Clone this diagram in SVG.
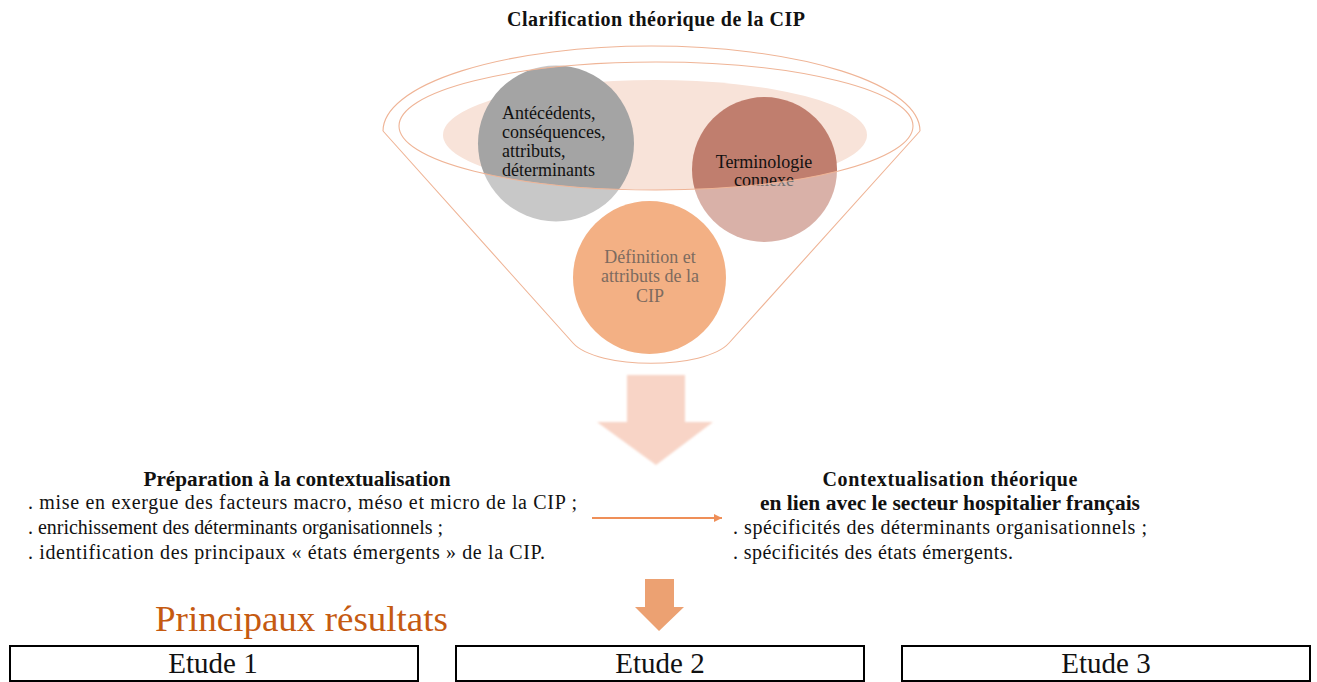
<svg xmlns="http://www.w3.org/2000/svg" width="1317" height="682" viewBox="0 0 1317 682">
<defs>
<style>
.t{font-family:"Liberation Serif","Times New Roman",serif;fill:#111;}
.b{font-weight:bold;}
.f18{font-size:18px;}
.f20{font-size:20px;}
.box{fill:#fff;stroke:#000;stroke-width:2;}
.funl{fill:none;stroke:#efb496;stroke-width:1.1;}
</style>
<marker id="ah" viewBox="0 0 10 10" refX="10" refY="5" markerWidth="8" markerHeight="8" markerUnits="userSpaceOnUse" orient="auto">
<path d="M0,0 L10,5 L0,10 Z" fill="#ef8f58"/>
</marker>
<filter id="soft" x="-10%" y="-10%" width="120%" height="120%">
<feGaussianBlur stdDeviation="1.2"/>
</filter>
</defs>
<rect width="1317" height="682" fill="#fff"/>

<g id="title">
<text class="t b" x="656" y="26" font-size="20" text-anchor="middle" textLength="298" lengthAdjust="spacing">Clarification théorique de la CIP</text>
</g>

<g id="funnel">
<ellipse id="funnel-fill" cx="655" cy="135" rx="212" ry="55" fill="#f8e3d9"/>
<g id="node-antecedents">
<circle cx="556" cy="143.5" r="78" fill="#a4a4a4"/>
<text class="t f18" x="502"><tspan x="502" y="119">Antécédents,</tspan><tspan x="502" y="138">conséquences,</tspan><tspan x="502" y="157">attributs,</tspan><tspan x="502" y="176">déterminants</tspan></text>
</g>
<g id="node-terminologie">
<circle cx="764.5" cy="169.5" r="72.5" fill="#c07e6e"/>
<text class="t f18" text-anchor="middle"><tspan x="764" y="168">Terminologie</tspan><tspan x="764" y="186">connexe</tspan></text>
</g>
<path id="funnel-body" fill="#fff" fill-opacity="0.4" fill-rule="evenodd" d="M383,131 A268.5,85 0 0 1 920,131 L729,343 C705,370 597,370 573,343 Z M399,126 A257,64 0 1 0 913,126 A257,64 0 1 0 399,126 Z"/>
<path class="funl" d="M383,131 A268.5,85 0 0 1 920,131"/>
<path class="funl" stroke="#f2c3ab" d="M383,131 L573,343 C597,370 705,370 729,343 L920,131"/>
<ellipse class="funl" stroke="#eaa17c" cx="656" cy="126" rx="257" ry="64"/>
<g id="node-definition">
<circle cx="649.5" cy="277.5" r="76.5" fill="#f3b084"/>
<text class="t f18" text-anchor="middle" style="fill:#7d6b5f"><tspan x="650" y="263">Définition et</tspan><tspan x="650" y="282">attributs de la</tspan><tspan x="650" y="302">CIP</tspan></text>
</g>
</g>

<g id="connectors">
<polygon points="627,375 685,375 685,422 713,422 656,465 597,422 627,422" fill="#f8d4c6" filter="url(#soft)"/>
<line x1="592" y1="518" x2="722" y2="518" stroke="#ef8f58" stroke-width="1.8" marker-end="url(#ah)"/>
<polygon points="645,579 674,579 674,607 684,607 659,631 635,607 645,607" fill="#eca172"/>
</g>

<g id="node-preparation">
<text class="t b f20" x="297" y="486" text-anchor="middle" textLength="307" lengthAdjust="spacingAndGlyphs">Préparation à la contextualisation</text>
<text class="t f20" x="28" y="509" textLength="549" lengthAdjust="spacing">.  mise en exergue des facteurs macro, méso et micro de la CIP ;</text>
<text class="t f20" x="28" y="534" textLength="415" lengthAdjust="spacing">. enrichissement des déterminants organisationnels ;</text>
<text class="t f20" x="28" y="559" textLength="517" lengthAdjust="spacing">. identification des principaux  « états émergents » de la CIP.</text>
</g>

<g id="node-contextualisation">
<text class="t b f20" x="950" y="486" text-anchor="middle" textLength="255" lengthAdjust="spacing">Contextualisation théorique</text>
<text class="t b f20" x="950" y="510" text-anchor="middle" textLength="380" lengthAdjust="spacingAndGlyphs">en lien avec le secteur hospitalier français</text>
<text class="t f20" x="733" y="534" textLength="414" lengthAdjust="spacing">. spécificités des déterminants organisationnels ;</text>
<text class="t f20" x="733" y="559" textLength="280" lengthAdjust="spacing">. spécificités des états émergents.</text>
</g>

<g id="node-resultats">
<text class="t" x="155" y="631" font-size="36" style="fill:#c55a11" textLength="293" lengthAdjust="spacingAndGlyphs">Principaux résultats</text>
</g>

<g id="node-etude1">
<rect class="box" x="10" y="646" width="408" height="35"/>
<text class="t" x="213" y="673" font-size="29" text-anchor="middle">Etude 1</text>
</g>
<g id="node-etude2">
<rect class="box" x="456" y="646" width="408" height="35"/>
<text class="t" x="660" y="673" font-size="29" text-anchor="middle">Etude 2</text>
</g>
<g id="node-etude3">
<rect class="box" x="902" y="646" width="408" height="35"/>
<text class="t" x="1106" y="673" font-size="29" text-anchor="middle">Etude 3</text>
</g>
</svg>
